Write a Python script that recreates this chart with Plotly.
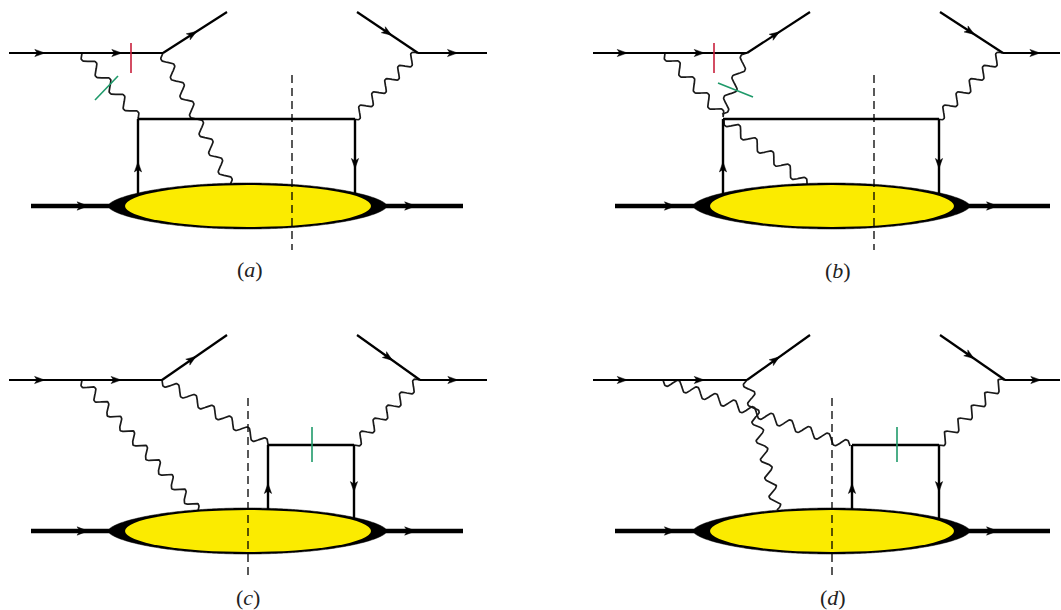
import math
import numpy as np
import plotly.graph_objects as go

W, H = 1061, 610

# ---------------- diagram data (pixel coordinates, y grows downward) ----------------
panel_labels = ["a", "b", "c", "d"]
label_pos = [[250, 269], [838, 270], [248, 597], [833, 597]]

# lepton (thin fermion) lines: x0, y0, x1, y1
lepton_lines = [
    [9, 53, 163, 53], [163, 53, 227, 12], [357, 12, 418, 53], [418, 53, 487, 53],
    [593, 53, 747, 53], [747, 53, 810, 12], [940, 12, 1003, 53], [1003, 53, 1060, 53],
    [9, 380, 162, 380], [162, 380, 227, 335], [357, 335, 420, 380], [420, 380, 487, 380],
    [593, 380, 747, 380], [747, 380, 810, 335], [940, 335, 1005, 380], [1005, 380, 1060, 380],
]
# arrows on lepton lines: line index, fraction along line
lepton_arrows = [
    [0, 0.20], [0, 0.70], [1, 0.46], [2, 0.50], [3, 0.50],
    [4, 0.19], [4, 0.69], [5, 0.45], [6, 0.48], [7, 0.56],
    [8, 0.20], [8, 0.70], [9, 0.46], [10, 0.50], [11, 0.49],
    [12, 0.19], [12, 0.69], [13, 0.45], [14, 0.46], [15, 0.56],
]

# quark box lines: x0, y0, x1, y1
quark_lines = [
    [138, 119, 355, 119], [138, 195, 138, 119], [355, 119, 355, 197],
    [723, 119, 939, 119], [723, 195, 723, 119], [939, 119, 939, 197],
    [268, 445, 354, 445], [268, 514, 268, 445], [354, 445, 354, 518],
    [852, 445, 939, 445], [852, 514, 852, 445], [939, 445, 939, 518],
]
quark_arrows = [[1, 0.37], [2, 0.57], [4, 0.37], [5, 0.57],
                [7, 0.37], [8, 0.57], [10, 0.37], [11, 0.57]]

# proton (thick) lines
proton_lines = [
    [31, 206, 120, 206], [375, 206, 463, 206],
    [615, 206, 705, 206], [958, 206, 1050, 206],
    [31, 531, 120, 531], [375, 531, 463, 531],
    [615, 531, 705, 531], [958, 531, 1050, 531],
]
proton_arrows = [[0, 0.58], [1, 0.40], [2, 0.61], [3, 0.37],
                 [4, 0.58], [5, 0.40], [6, 0.61], [7, 0.37]]

# photon / gluon (wavy) lines
photon_lines = [
    [82, 53, 138, 119], [163, 53, 230, 185], [353, 119, 418, 53],
    [665, 53, 723, 117], [747, 53, 722, 114], [724, 119, 807, 185], [937, 119, 1003, 53],
    [82, 380, 198, 511], [162, 380, 268, 445], [354, 445, 420, 380],
    [663, 380, 850, 446], [747, 380, 777, 510], [938, 445, 1005, 380],
]

# hadron blobs: outer black [x0, y0, x1, y1], inner yellow [x0, y0, x1, y1]
blob_outer = [[108, 183, 387, 229], [693, 183, 970, 229],
              [108, 508, 387, 554], [693, 508, 970, 554]]
blob_inner = [[125, 185, 371, 227], [710, 185, 954, 227],
              [125, 510, 371, 552], [710, 510, 954, 552]]

# cut lines (dashed): x, y_top, y_bottom
cut_lines = [[292, 75, 250], [874, 75, 250], [248, 398, 577], [832, 398, 577]]

# marks on propagators
red_ticks = [[131, 43, 131, 73], [714, 43, 714, 73]]
green_ticks = [[95, 100, 118, 76], [718, 83, 753, 97],
               [312, 427, 312, 462], [897, 427, 897, 462]]

# ---------------- helpers ----------------
def seg_xy(lines):
    xs, ys = [], []
    for x0, y0, x1, y1 in lines:
        xs += [x0, x1, None]
        ys += [y0, y1, None]
    return xs, ys


def wavy_xy(lines, period=20.0, amp=4.8):
    xs, ys = [], []
    for x0, y0, x1, y1 in lines:
        dx, dy = x1 - x0, y1 - y0
        L = math.hypot(dx, dy)
        n = max(1, round(L / period))
        t = np.linspace(0, 1, n * 30 + 1)
        px, py = -dy / L, dx / L
        off = amp * np.sin(2 * np.pi * n * t)
        xs += list(x0 + dx * t + px * off) + [None]
        ys += list(y0 + dy * t + py * off) + [None]
    return xs, ys


def arrow_xy(lines, arrows, length=10.0, half=3.6):
    xs, ys = [], []
    for idx, f in arrows:
        x0, y0, x1, y1 = lines[idx]
        dx, dy = x1 - x0, y1 - y0
        L = math.hypot(dx, dy)
        ux, uy = dx / L, dy / L
        px, py = -uy, ux
        cx, cy = x0 + dx * f, y0 + dy * f
        tip = (cx + ux * length / 2, cy + uy * length / 2)
        bx, by = cx - ux * length / 2, cy - uy * length / 2
        notch = (cx - ux * length * 0.25, cy - uy * length * 0.25)
        xs += [tip[0], bx + px * half, notch[0], bx - px * half, tip[0], None]
        ys += [tip[1], by + py * half, notch[1], by - py * half, tip[1], None]
    return xs, ys


def lens_path(x0, y0, x1, y1, q=0.6, n=160):
    cx, cy = (x0 + x1) / 2, (y0 + y1) / 2
    a, b = (x1 - x0) / 2, (y1 - y0) / 2
    u = np.linspace(-1, 1, n)
    top = cy - b * np.clip(1 - u ** 2, 0, None) ** q
    bot = cy + b * np.clip(1 - u ** 2, 0, None) ** q
    xs = list(cx + a * u) + list(cx + a * u[::-1])
    ys = list(top) + list(bot[::-1])
    d = "M " + " L ".join("%.2f,%.2f" % (x, y) for x, y in zip(xs, ys)) + " Z"
    return d


fig = go.Figure()

# wavy lines
x, y = wavy_xy(photon_lines)
fig.add_trace(go.Scatter(x=x, y=y, mode="lines", line=dict(color="#1a1a1a", width=1.7),
                         hoverinfo="skip"))
# lepton lines
x, y = seg_xy(lepton_lines)
fig.add_trace(go.Scatter(x=x, y=y, mode="lines", line=dict(color="black", width=2.2),
                         hoverinfo="skip"))
# quark lines
x, y = seg_xy(quark_lines)
fig.add_trace(go.Scatter(x=x, y=y, mode="lines", line=dict(color="black", width=2.4),
                         hoverinfo="skip"))
# proton lines
x, y = seg_xy(proton_lines)
fig.add_trace(go.Scatter(x=x, y=y, mode="lines", line=dict(color="black", width=4.5),
                         hoverinfo="skip"))
# arrowheads
for lines, arrows, ln, hw in [(lepton_lines, lepton_arrows, 10, 3.6),
                              (quark_lines, quark_arrows, 10, 3.6),
                              (proton_lines, proton_arrows, 11, 4.2)]:
    x, y = arrow_xy(lines, arrows, ln, hw)
    fig.add_trace(go.Scatter(x=x, y=y, mode="lines", fill="toself", fillcolor="black",
                             line=dict(color="black", width=0.5), hoverinfo="skip"))
# ticks
x, y = seg_xy(red_ticks)
fig.add_trace(go.Scatter(x=x, y=y, mode="lines", line=dict(color="#c8203c", width=1.6),
                         hoverinfo="skip"))
x, y = seg_xy(green_ticks)
fig.add_trace(go.Scatter(x=x, y=y, mode="lines", line=dict(color="#1f9a6a", width=1.6),
                         hoverinfo="skip"))

# blobs (above traces)
for (ox0, oy0, ox1, oy1), (ix0, iy0, ix1, iy1) in zip(blob_outer, blob_inner):
    fig.add_shape(type="path", xref="x", yref="y", path=lens_path(ox0, oy0, ox1, oy1),
                  fillcolor="black", line=dict(color="black", width=0.5), layer="above")
    fig.add_shape(type="circle", xref="x", yref="y", x0=ix0, y0=iy0, x1=ix1, y1=iy1,
                  fillcolor="#fbeb00", line=dict(color="black", width=0), layer="above")
# cuts
for cx, ya, yb in cut_lines:
    fig.add_shape(type="line", xref="x", yref="y", x0=cx, y0=ya, x1=cx, y1=yb,
                  line=dict(color="black", width=1.3, dash="8px,5px"), layer="above")

# labels
for lab, (lx, ly) in zip(panel_labels, label_pos):
    fig.add_annotation(x=lx, y=ly, xref="x", yref="y", showarrow=False,
                       text="(<i>%s</i>)" % lab,
                       font=dict(family="Liberation Serif", size=22, color="#222"))

fig.update_layout(
    width=W, height=H, margin=dict(l=0, r=0, t=0, b=0),
    paper_bgcolor="white", plot_bgcolor="white", showlegend=False,
    xaxis=dict(range=[0, W], visible=False, fixedrange=True),
    yaxis=dict(range=[H, 0], visible=False, fixedrange=True),
)
fig.write_html("out.html")
